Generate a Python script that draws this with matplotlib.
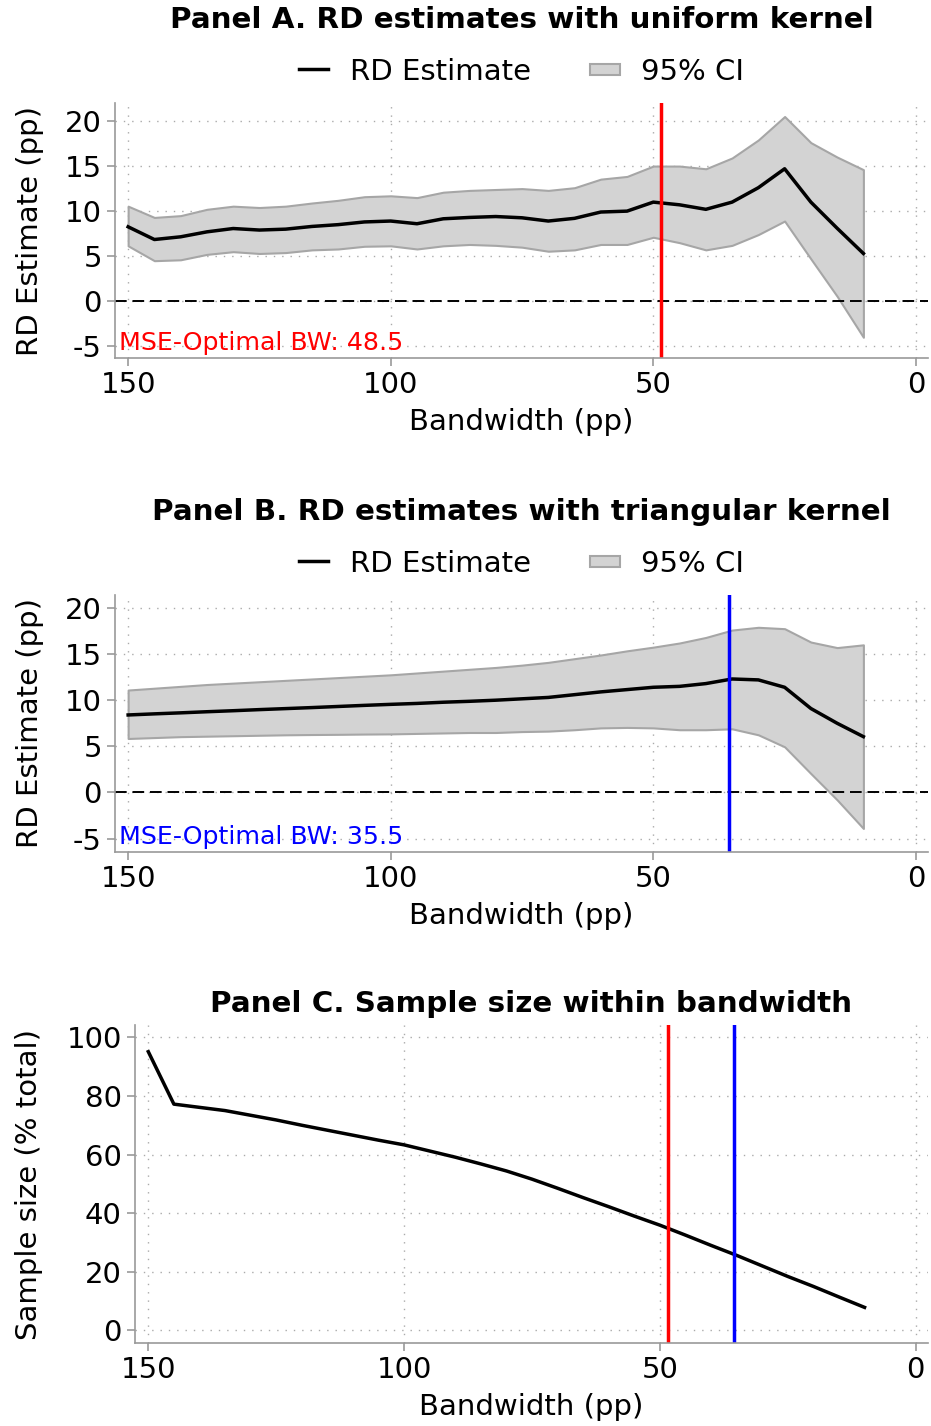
import matplotlib
matplotlib.use("Agg")
import matplotlib.pyplot as plt
from matplotlib.lines import Line2D
from matplotlib.patches import Patch, Rectangle
from matplotlib.legend_handler import HandlerPatch

plt.rcParams["axes.unicode_minus"] = False

bandwidth = list(range(150, 5, -5))

est_uniform = [8.26, 6.85, 7.15, 7.7, 8.07, 7.9, 8.0, 8.3, 8.5, 8.8, 8.9, 8.6, 9.15, 9.3, 9.4,
               9.26, 8.9, 9.2, 9.9, 10.0, 11.0, 10.7, 10.2, 11.0, 12.6, 14.7, 11.0, 8.1, 5.3]
hi_uniform = [10.55, 9.3, 9.5, 10.2, 10.55, 10.4, 10.55, 10.9, 11.2, 11.6, 11.7, 11.5, 12.1, 12.3, 12.4,
              12.5, 12.3, 12.6, 13.55, 13.85, 15.0, 15.0, 14.7, 15.9, 17.9, 20.5, 17.6, 16.0, 14.6]
lo_uniform = [6.15, 4.5, 4.6, 5.2, 5.5, 5.3, 5.4, 5.7, 5.8, 6.1, 6.15, 5.8, 6.15, 6.3, 6.2,
              6.0, 5.55, 5.7, 6.3, 6.3, 7.1, 6.5, 5.7, 6.2, 7.4, 8.9, 4.7, 0.55, -4.0]

est_triang = [8.4, 8.52, 8.63, 8.75, 8.86, 8.98, 9.09, 9.2, 9.32, 9.44, 9.55, 9.65, 9.78, 9.88, 10.0,
              10.15, 10.3, 10.6, 10.9, 11.15, 11.4, 11.5, 11.8, 12.3, 12.2, 11.4, 9.1, 7.5, 6.05]
hi_triang = [11.1, 11.3, 11.5, 11.7, 11.85, 12.0, 12.15, 12.3, 12.45, 12.6, 12.75, 12.95, 13.15, 13.35, 13.55,
             13.8, 14.1, 14.5, 14.9, 15.35, 15.75, 16.2, 16.8, 17.6, 17.9, 17.75, 16.3, 15.7, 16.0]
lo_triang = [5.85, 5.95, 6.05, 6.1, 6.15, 6.2, 6.25, 6.28, 6.3, 6.33, 6.35, 6.4, 6.45, 6.5, 6.5,
             6.6, 6.65, 6.8, 7.0, 7.05, 7.0, 6.8, 6.8, 6.9, 6.25, 4.95, 2.05, -0.8, -3.9]

sample_pct = [95.1, 77.2, 76.1, 75.0, 73.4, 71.8, 70.0, 68.3, 66.6, 64.9, 63.3, 61.2, 59.1, 56.8, 54.4,
              51.6, 48.5, 45.3, 42.2, 39.0, 35.9, 32.5, 29.0, 25.6, 22.0, 18.4, 15.0, 11.4, 7.85]

bw_uniform = 48.5
bw_triang = 35.5

FS = 21
W, H = 931, 1426
fig = plt.figure(figsize=(W / 100, H / 100), dpi=100)


def box(l, t, r, b):
    return [l / W, 1 - b / H, (r - l) / W, (b - t) / H]


def flat_patch(legend, orig_handle, xdescent, ydescent, width, height, fontsize):
    return Rectangle((-xdescent, -ydescent + height * 0.22), width, height * 0.56)


def style(ax, yticks, ylim, xlim):
    for s in ["top", "right"]:
        ax.spines[s].set_visible(False)
    for s in ["left", "bottom"]:
        ax.spines[s].set_color("#999999")
        ax.spines[s].set_linewidth(1.2)
    ax.tick_params(colors="#999999", labelcolor="black", labelsize=FS, length=6, width=1.2)
    ax.set_xticks([150, 100, 50, 0])
    ax.set_yticks(yticks)
    ax.set_xlim(*xlim)
    ax.set_ylim(*ylim)
    ax.grid(True, color="#aaaaaa", linestyle=(0, (1, 5)), linewidth=1)
    ax.set_axisbelow(True)
    ax.set_xlabel("Bandwidth (pp)", fontsize=FS, labelpad=6)


def rd_panel(rect, title, est, lo, hi, bw, col, ylim):
    ax = fig.add_axes(rect)
    ax.fill_between(bandwidth, lo, hi, facecolor="#d3d3d3", edgecolor="#a6a6a6", linewidth=1.5)
    ax.plot(bandwidth, est, color="black", linewidth=2.5)
    ax.axhline(0, color="black", linewidth=1.4, dashes=(6, 3))
    ax.axvline(bw, color=col, linewidth=2.5)
    style(ax, [-5, 0, 5, 10, 15, 20], ylim, (152.5, -2.3))
    ax.set_ylabel("RD Estimate (pp)", fontsize=FS, labelpad=15)
    ax.text(0.005, 0.03, f"MSE-Optimal BW: {bw}", transform=ax.transAxes, color=col,
            fontsize=18.2, va="baseline", ha="left")
    handles = [Line2D([], [], color="black", linewidth=2.5),
               Patch(facecolor="#d3d3d3", edgecolor="#a6a6a6", linewidth=1.5)]
    ax.legend(handles, ["RD Estimate", "95% CI"], loc="lower center", bbox_to_anchor=(0.5, 1.0),
              ncol=2, frameon=False, fontsize=FS, handlelength=1.0, handletextpad=0.75,
              columnspacing=2.05, borderaxespad=0.2,
              handler_map={Patch: HandlerPatch(patch_func=flat_patch)})
    ax.set_title(title, fontsize=21.2, fontweight="bold", pad=54)
    return ax


rd_panel(box(115, 103, 928, 358), "Panel A. RD estimates with uniform kernel",
         est_uniform, lo_uniform, hi_uniform, bw_uniform, "red", (-6.3, 22.0))
rd_panel(box(115, 595, 928, 852), "Panel B. RD estimates with triangular kernel",
         est_triang, lo_triang, hi_triang, bw_triang, "blue", (-6.45, 21.4))

axc = fig.add_axes(box(135, 1025, 928, 1343))
axc.plot(bandwidth, sample_pct, color="black", linewidth=2.5)
axc.axvline(bw_uniform, color="red", linewidth=2.5)
axc.axvline(bw_triang, color="blue", linewidth=2.5)
style(axc, [0, 20, 40, 60, 80, 100], (-4.3, 104.2), (152.6, -2.4))
axc.set_ylabel("Sample size (% total)", fontsize=FS, labelpad=17)
axc.set_title("Panel C. Sample size within bandwidth", fontsize=21.2, fontweight="bold", pad=9)

fig.savefig("out.png", dpi=100)
